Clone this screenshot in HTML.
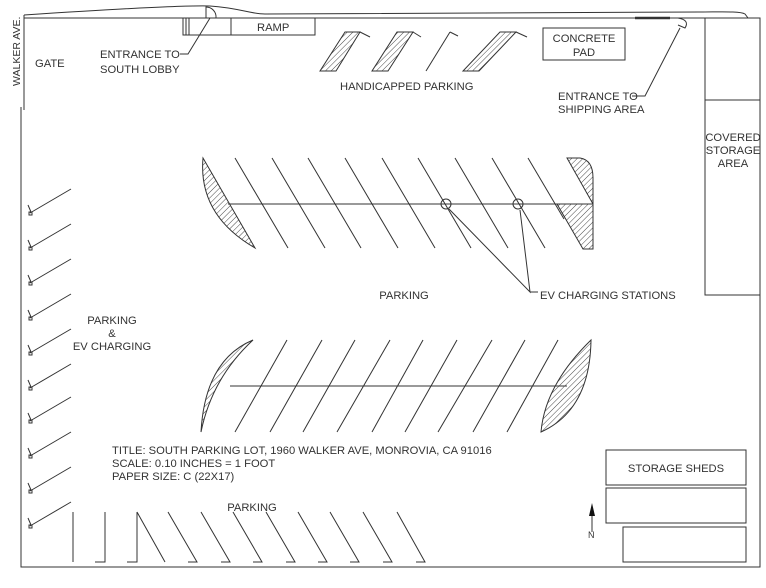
<!DOCTYPE html>
<html><head><meta charset="utf-8"><style>
html,body{margin:0;padding:0;background:#fff;}
svg{display:block}
text{font-family:"Liberation Sans",sans-serif;font-size:11.2px;fill:#333;}
</style></head><body>
<svg width="766" height="588" viewBox="0 0 766 588" xmlns="http://www.w3.org/2000/svg">
<defs>
<pattern id="h" patternUnits="userSpaceOnUse" width="4" height="4" patternTransform="rotate(45)">
<line x1="0" y1="0" x2="0" y2="4" stroke="#333" stroke-width="0.9"/>
</pattern>
</defs>
<g stroke="#333" stroke-width="1" fill="none">
<path d="M24 15 V110"/>
<path d="M21 107 V567 H760 V18 H24"/>
<path d="M24 15 C100 10 180 5 210 6 C240 8 250 14 265 14 L700 12 C720 12 740 11 745 14 L748 18"/>
<rect x="183" y="18" width="132" height="17"/>
<line x1="231" y1="18" x2="231" y2="35"/>
<line x1="186" y1="18" x2="186" y2="35"/><line x1="189" y1="18" x2="189" y2="35"/>
<path d="M206 18 V7 A10 10 0 0 1 216 18"/>
<path d="M180 54 H188 L210 18"/>
<path d="M320 71 L336 71 L360 32 L345 32 Z" fill="url(#h)"/>
<line x1="360" y1="32" x2="370" y2="37"/>
<path d="M372 71 L388 71 L413 32 L397 32 Z" fill="url(#h)"/>
<line x1="413" y1="32" x2="421" y2="37"/>
<line x1="426" y1="71" x2="450" y2="32"/>
<line x1="450" y1="32" x2="458" y2="36"/>
<path d="M463 71 L479 71 L516 32 L500 32 Z" fill="url(#h)"/>
<line x1="516" y1="32" x2="527" y2="37"/>
<rect x="543" y="28" width="82" height="32"/>
<line x1="635" y1="18" x2="670" y2="18" stroke-width="2.5"/>
<path d="M678 18 Q690 20 685 28 L678 25"/>
<path d="M632 96 H645 L680 28"/>
<rect x="705" y="18" width="55" height="82"/>
<rect x="705" y="100" width="55" height="195"/>
<line x1="228" y1="204" x2="593" y2="204"/>
<path d="M203 158 Q198 215 255 248 Z" fill="url(#h)"/>
<path d="M567 158 H580 Q593 160 593 178 V204 Z" fill="url(#h)"/>
<path d="M557 204 H593 V249 H583 Z" fill="url(#h)"/>
<g>
<line x1="235" y1="158" x2="288" y2="248"/><line x1="272" y1="158" x2="325" y2="248"/>
<line x1="308" y1="158" x2="361" y2="248"/><line x1="345" y1="158" x2="398" y2="248"/>
<line x1="382" y1="158" x2="435" y2="248"/><line x1="418" y1="158" x2="471" y2="248"/>
<line x1="455" y1="158" x2="508" y2="248"/><line x1="492" y1="158" x2="545" y2="248"/>
<line x1="528" y1="158" x2="564" y2="219"/>
</g>
<circle cx="446" cy="204" r="5"/><circle cx="518" cy="204" r="5"/>
<path d="M449 209 L530 292 L520 210"/>
<line x1="530" y1="292" x2="538" y2="292"/>
<line x1="230" y1="386" x2="567" y2="386"/>
<path d="M253 340 Q205 360 201 432 Q212 378 253 340 Z" fill="url(#h)"/>
<path d="M591 340 Q545 385 541 432 Q590 410 591 340 Z" fill="url(#h)"/>
<g>
<line x1="235" y1="432" x2="287" y2="340"/><line x1="270" y1="432" x2="322" y2="340"/>
<line x1="303" y1="432" x2="355" y2="340"/><line x1="337" y1="432" x2="390" y2="340"/>
<line x1="372" y1="432" x2="423" y2="340"/><line x1="405" y1="432" x2="457" y2="340"/>
<line x1="438" y1="432" x2="492" y2="340"/><line x1="473" y1="432" x2="525" y2="340"/>
<line x1="507" y1="432" x2="558" y2="340"/>
</g>
<g>
<path d="M30 213 L71 189 M28 205 L31 212"/><rect x="29" y="212" width="3" height="3"/>
<path d="M30 248 L71 224 M28 240 L31 247"/><rect x="29" y="247" width="3" height="3"/>
<path d="M30 283 L71 259 M28 275 L31 282"/><rect x="29" y="282" width="3" height="3"/>
<path d="M30 318 L71 294 M28 310 L31 317"/><rect x="29" y="317" width="3" height="3"/>
<path d="M30 353 L71 329 M28 345 L31 352"/><rect x="29" y="352" width="3" height="3"/>
<path d="M30 388 L71 364 M28 380 L31 387"/><rect x="29" y="387" width="3" height="3"/>
<path d="M30 421 L71 397 M28 413 L31 420"/><rect x="29" y="420" width="3" height="3"/>
<path d="M30 456 L71 432 M28 448 L31 455"/><rect x="29" y="455" width="3" height="3"/>
<path d="M30 491 L71 467 M28 483 L31 490"/><rect x="29" y="490" width="3" height="3"/>
<path d="M30 526 L71 502 M28 518 L31 525"/><rect x="29" y="525" width="3" height="3"/>
</g>
<line x1="73" y1="512" x2="73" y2="562"/>
<path d="M105 512 V562 H95"/>
<path d="M137 512 V562 H127 M137 512 L165 562"/>
<path d="M168 512 L197 562 H188"/><path d="M201 512 L230 562 H221"/>
<path d="M233 512 L262 562 H253"/><path d="M266 512 L295 562 H286"/>
<path d="M298 512 L327 562 H318"/><path d="M330 512 L359 562 H350"/>
<path d="M363 512 L392 562 H383"/><path d="M397 512 L425 562 H416"/>
<rect x="606" y="450" width="140" height="35"/>
<rect x="606" y="488" width="140" height="35"/>
<rect x="623" y="527" width="123" height="35"/>
<line x1="592" y1="515" x2="592" y2="532"/>
</g>
<path d="M592 503 L595 516 H589 Z" fill="#111"/>
<text x="588" y="538" style="font-size:9px">N</text>
<text x="20" y="86" transform="rotate(-90 20 86)" style="font-size:10.5px">WALKER AVE.</text>
<text x="35" y="67">GATE</text>
<text x="257" y="31">RAMP</text>
<text x="100" y="58">ENTRANCE TO</text>
<text x="100" y="73">SOUTH LOBBY</text>
<text x="340" y="90">HANDICAPPED PARKING</text>
<text x="584" y="42" text-anchor="middle">CONCRETE</text>
<text x="584" y="56" text-anchor="middle">PAD</text>
<text x="558" y="100">ENTRANCE TO</text>
<text x="558" y="113">SHIPPING AREA</text>
<text x="733" y="141" text-anchor="middle">COVERED</text>
<text x="733" y="154" text-anchor="middle">STORAGE</text>
<text x="733" y="167" text-anchor="middle">AREA</text>
<text x="404" y="299" text-anchor="middle">PARKING</text>
<text x="540" y="299">EV CHARGING STATIONS</text>
<text x="112" y="324" text-anchor="middle">PARKING</text>
<text x="112" y="337" text-anchor="middle">&amp;</text>
<text x="112" y="350" text-anchor="middle">EV CHARGING</text>
<text x="112" y="454">TITLE: SOUTH PARKING LOT, 1960 WALKER AVE, MONROVIA, CA 91016</text>
<text x="112" y="467">SCALE: 0.10 INCHES = 1 FOOT</text>
<text x="112" y="480">PAPER SIZE: C (22X17)</text>
<text x="252" y="511" text-anchor="middle">PARKING</text>
<text x="676" y="472" text-anchor="middle">STORAGE SHEDS</text>
</svg>
</body></html>
